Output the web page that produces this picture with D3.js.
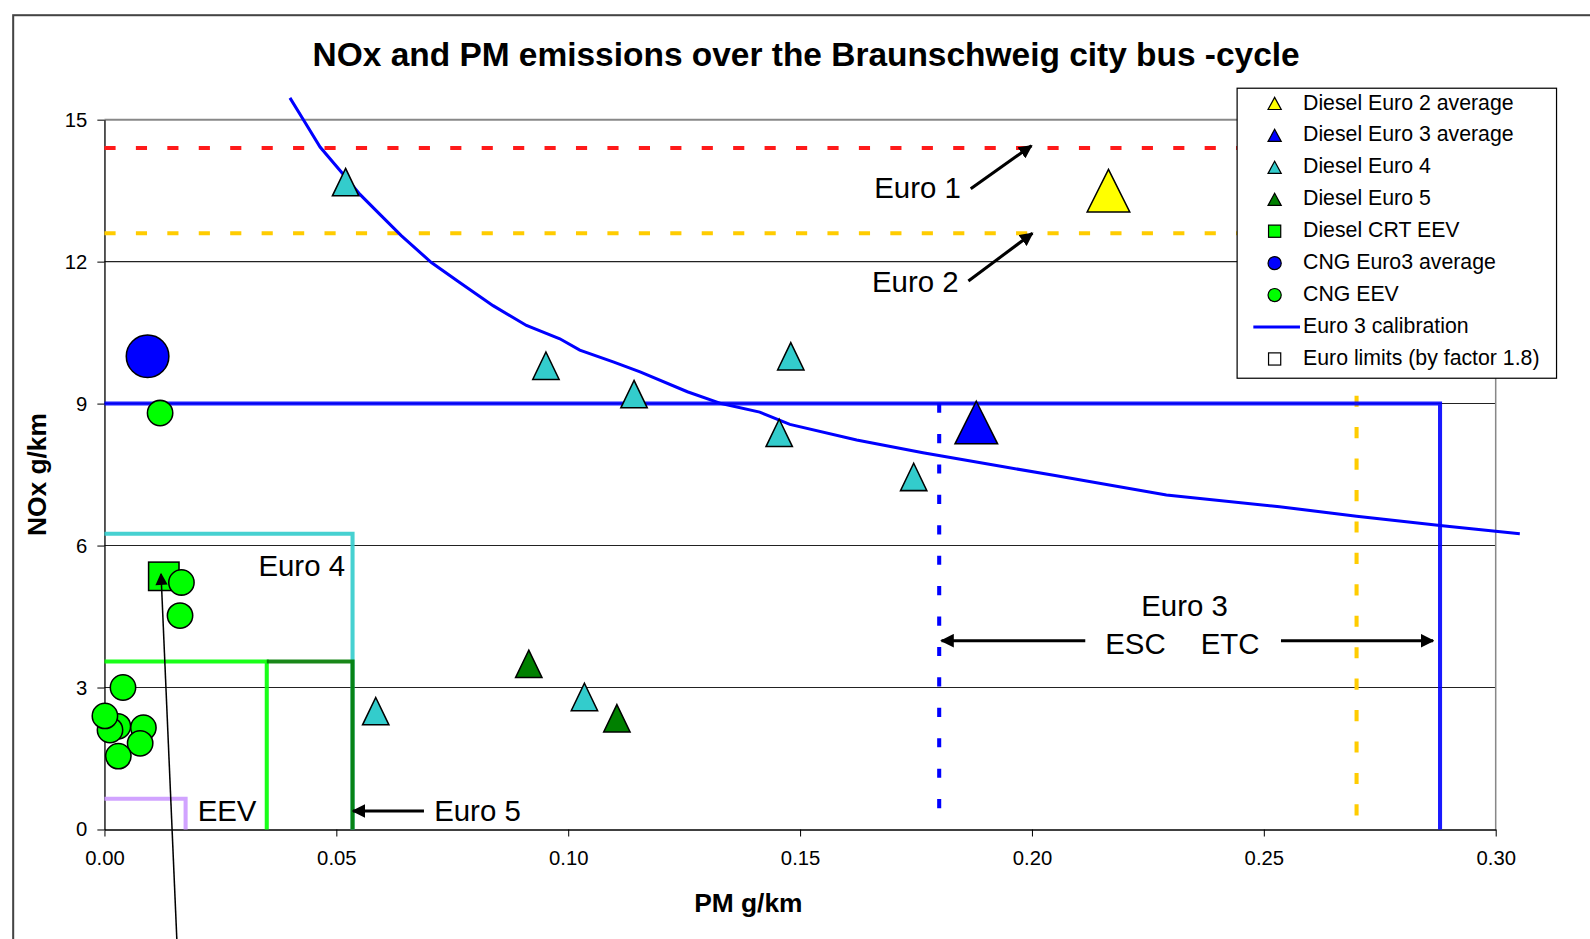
<!DOCTYPE html>
<html>
<head>
<meta charset="utf-8">
<script src="https://cdn.jsdelivr.net/npm/d3@7"></script>
<style>
  body { margin: 0; background: #fff; }
  svg { font-family: "Liberation Sans", Arial, sans-serif; }
</style>
</head>
<body>
<svg id="chart" width="1590" height="939"></svg>
<script>
// --- Data ---
const xTicks = [0, 0.05, 0.1, 0.15, 0.2, 0.25, 0.3];
const yTicks = [0, 3, 6, 9, 12, 15];

// markers: [PM, NOx]
const dieselEuro2Avg = [[0.2165, 13.5]];
const dieselEuro3Avg = [[0.188, 8.6]];
const dieselEuro4 = [
  [0.052, 13.68], [0.0952, 9.8], [0.1142, 9.2], [0.148, 10.0],
  [0.1455, 8.38], [0.1745, 7.45], [0.0585, 2.5], [0.1035, 2.8],
];
const dieselEuro5 = [[0.0915, 3.5], [0.1105, 2.35]];
const dieselCrtEev = [[0.0128, 5.35]];
const cngEuro3Avg = [[0.0093, 10.0]];
const cngEev = [
  [0.012, 8.8], [0.0166, 5.22], [0.0163, 4.52], [0.004, 3.0],
  [0.0029, 2.18], [0.0012, 2.1], [0.0001, 2.4], [0.0084, 2.15],
  [0.0077, 1.82], [0.003, 1.55],
];

// Euro 3 calibration curve
const calPM = [0.0400, 0.0432, 0.0465, 0.0518, 0.0551, 0.0594, 0.0640, 0.0705, 0.0766,
  0.0838, 0.0910, 0.0982, 0.1025, 0.1097, 0.1155, 0.1257, 0.1330, 0.1413, 0.1478,
  0.1622, 0.1765, 0.1936, 0.205, 0.229, 0.2534, 0.270, 0.2885, 0.3052];
const calNOx = [15.46, 14.95, 14.42, 13.81, 13.42, 13.0, 12.55, 11.98, 11.56,
  11.07, 10.65, 10.37, 10.13, 9.88, 9.67, 9.25, 9.0, 8.82, 8.56,
  8.23, 7.96, 7.67, 7.48, 7.07, 6.82, 6.62, 6.42, 6.25];

// Euro limits (g/kWh x 1.8): [PM, NOx]
const limitEuro1NOx = 14.4;
const limitEuro2 = [0.27, 12.6];
const limitEuro3Esc = [0.18, 9.0];
const limitEuro3Etc = [0.288, 9.0];
const limitEuro4 = [0.0535, 6.25];
const limitEev = [0.035, 3.55];
const limitEuro5 = [0.0535, 3.55];
const limitEevLow = [0.0175, 0.65];

const legendLabels = [
  "Diesel Euro 2 average", "Diesel Euro 3 average", "Diesel Euro 4", "Diesel Euro 5",
  "Diesel CRT EEV", "CNG Euro3 average", "CNG EEV", "Euro 3 calibration",
  "Euro limits (by factor 1.8)",
];

// --- Setup ---
const k = 1590 / 1568; // layout was measured on a 1568 px wide view
const svg = d3.select("#chart").append("g").attr("transform", `scale(${k})`);
const x = d3.scaleLinear().domain([0, 0.3]).range([103, 1475]);
const y = d3.scaleLinear().domain([0, 15]).range([818, 118]);

// outer frame
svg.append("rect")
  .attr("x", 13).attr("y", 15)
  .attr("width", 1700).attr("height", 1200)
  .attr("fill", "none").attr("stroke", "#444").attr("stroke-width", 2);

svg.append("text")
  .attr("x", 795).attr("y", 65)
  .attr("text-anchor", "middle")
  .attr("font-size", "33px").attr("font-weight", "bold")
  .text("NOx and PM emissions over the Braunschweig city bus -cycle");

// --- Grid and axes ---
svg.append("g")
  .selectAll("line")
  .data(yTicks.filter((d) => d > 0))
  .join("line")
  .attr("x1", x(0)).attr("x2", x(0.3))
  .attr("y1", (d) => y(d)).attr("y2", (d) => y(d))
  .attr("stroke", (d) => (d === 15 ? "#888" : "#222"))
  .attr("stroke-width", (d) => (d === 15 ? 2 : 1));

svg.append("line")
  .attr("x1", x(0.3)).attr("x2", x(0.3))
  .attr("y1", y(15)).attr("y2", y(0))
  .attr("stroke", "#888").attr("stroke-width", 1.5);

const yAxis = svg.append("g")
  .attr("transform", `translate(${x(0)},0)`)
  .call(d3.axisLeft(y).tickValues(yTicks).tickSize(7).tickSizeOuter(0).tickPadding(10));
const xAxis = svg.append("g")
  .attr("transform", `translate(0,${y(0)})`)
  .call(d3.axisBottom(x).tickValues(xTicks).tickFormat(d3.format(".2f")).tickSize(7).tickSizeOuter(0).tickPadding(14));
[xAxis, yAxis].forEach((g) => {
  g.select(".domain").attr("stroke", "#000").attr("stroke-width", 1.3);
  g.selectAll(".tick line").attr("stroke", "#000");
  g.selectAll("text").attr("font-size", "20px").attr("fill", "#000")
    .attr("font-family", '"Liberation Sans", Arial, sans-serif');
});

svg.append("text")
  .attr("x", 738).attr("y", 899)
  .attr("text-anchor", "middle")
  .attr("font-size", "26px").attr("font-weight", "bold")
  .text("PM g/km");
svg.append("text")
  .attr("transform", "translate(45,468) rotate(-90)")
  .attr("text-anchor", "middle")
  .attr("font-size", "26px").attr("font-weight", "bold")
  .text("NOx g/km");

// --- Limit lines ---
const limits = svg.append("g").attr("fill", "none");
function boxPath([pm, nox], fromPM = 0) {
  return d3.line()([[x(fromPM), y(nox)], [x(pm), y(nox)], [x(pm), y(0)]]);
}
// Euro 1 (NOx only) and Euro 2, dashed
limits.append("line")
  .attr("x1", x(0)).attr("x2", x(0.3))
  .attr("y1", y(limitEuro1NOx)).attr("y2", y(limitEuro1NOx))
  .attr("stroke", "#ff1a1a").attr("stroke-width", 4).attr("stroke-dasharray", "11 20");
limits.append("path")
  .attr("d", boxPath(limitEuro2))
  .attr("stroke", "#ffcc00").attr("stroke-width", 4).attr("stroke-dasharray", "11 20");
// Euro 3 ESC dashed vertical
limits.append("line")
  .attr("x1", x(limitEuro3Esc[0])).attr("x2", x(limitEuro3Esc[0]))
  .attr("y1", y(limitEuro3Esc[1])).attr("y2", y(0))
  .attr("stroke", "#0000ff").attr("stroke-width", 4).attr("stroke-dasharray", "9 21");
// solid boxes
const solidBoxes = [
  { lim: limitEuro3Etc, from: 0, color: "#0000ff" },
  { lim: limitEuro4, from: 0, color: "#33cccc" },
  { lim: limitEev, from: 0, color: "#00ff00" },
  { lim: limitEuro5, from: limitEev[0], color: "#007a00" },
  { lim: limitEevLow, from: 0, color: "#cc99ff" },
];
solidBoxes.forEach((b) => {
  limits.append("path")
    .attr("d", boxPath(b.lim, b.from))
    .attr("stroke", b.color).attr("stroke-width", 4).attr("opacity", 0.9);
});

// --- Calibration curve ---
svg.append("path")
  .attr("d", d3.line().x((d, i) => x(calPM[i])).y((d) => y(d))(calNOx))
  .attr("fill", "none").attr("stroke", "#0000ff").attr("stroke-width", 3);

// --- Markers ---
function triPath(w, h) {
  return `M0,${-h / 2}L${w / 2},${h / 2}L${-w / 2},${h / 2}Z`;
}
function drawTriangles(data, color, w, h) {
  svg.append("g").selectAll("path")
    .data(data).join("path")
    .attr("transform", (d) => `translate(${x(d[0])},${y(d[1])})`)
    .attr("d", triPath(w, h))
    .attr("fill", color).attr("stroke", "#000").attr("stroke-width", 1.5);
}
function drawCircles(data, color, r) {
  svg.append("g").selectAll("circle")
    .data(data).join("circle")
    .attr("cx", (d) => x(d[0])).attr("cy", (d) => y(d[1])).attr("r", r)
    .attr("fill", color).attr("stroke", "#000").attr("stroke-width", 1.5);
}
drawTriangles(dieselEuro2Avg, "#ffff00", 42, 42);
drawTriangles(dieselEuro3Avg, "#0000ff", 42, 42);
drawTriangles(dieselEuro4, "#33cccc", 26, 27);
drawTriangles(dieselEuro5, "#008000", 26, 27);
svg.append("g").selectAll("rect")
  .data(dieselCrtEev).join("rect")
  .attr("x", (d) => x(d[0]) - 15).attr("y", (d) => y(d[1]) - 14)
  .attr("width", 30).attr("height", 28)
  .attr("fill", "#00ff00").attr("stroke", "#000").attr("stroke-width", 1.5);
drawCircles(cngEuro3Avg, "#0000ff", 21);
drawCircles(cngEev, "#00ff00", 12.5);

// --- Annotations (positions in data units) ---
const annot = svg.append("g").attr("font-size", "29px").attr("fill", "#000");
const annotTexts = [
  { t: "Euro 1", pm: 0.166, nox: 13.35 },
  { t: "Euro 2", pm: 0.1655, nox: 11.36 },
  { t: "Euro 4", pm: 0.0332, nox: 5.36 },
  { t: "EEV", pm: 0.0201, nox: 0.17 },
  { t: "Euro 5", pm: 0.0711, nox: 0.17 },
  { t: "ESC", pm: 0.2158, nox: 3.71 },
  { t: "ETC", pm: 0.2364, nox: 3.71 },
];
annotTexts.forEach((a) => {
  annot.append("text").attr("x", x(a.pm)).attr("y", y(a.nox)).text(a.t);
});
annot.append("text").attr("x", x(0.2329)).attr("y", y(4.52))
  .attr("text-anchor", "middle").text("Euro 3");

const defs = svg.append("defs");
defs.append("marker")
  .attr("id", "head").attr("viewBox", "0 0 10 10")
  .attr("refX", 9).attr("refY", 5)
  .attr("markerWidth", 4.5).attr("markerHeight", 4.5)
  .attr("markerUnits", "strokeWidth").attr("orient", "auto")
  .append("path").attr("d", "M0,0L10,5L0,10Z").attr("fill", "#000");
defs.append("marker")
  .attr("id", "headThin").attr("viewBox", "0 0 10 10")
  .attr("refX", 9).attr("refY", 5)
  .attr("markerWidth", 14).attr("markerHeight", 12)
  .attr("markerUnits", "userSpaceOnUse").attr("orient", "auto")
  .append("path").attr("d", "M0,0L10,5L0,10Z").attr("fill", "#000");

const arrows = [
  { from: [0.1868, 13.54], to: [0.1999, 14.45], w: 3 },
  { from: [0.1863, 11.59], to: [0.2001, 12.6], w: 3 },
  { from: [0.0689, 0.39], to: [0.0536, 0.39], w: 3 },
  { from: [0.2115, 3.99], to: [0.1805, 3.99], w: 3 },
  { from: [0.2537, 3.99], to: [0.2865, 3.99], w: 3 },
];
arrows.forEach((a) => {
  svg.append("line")
    .attr("x1", x(a.from[0])).attr("y1", y(a.from[1]))
    .attr("x2", x(a.to[0])).attr("y2", y(a.to[1]))
    .attr("stroke", "#000").attr("stroke-width", a.w)
    .attr("marker-end", "url(#head)");
});
// thin pointer to the CRT EEV square
svg.append("line")
  .attr("x1", x(0.0158)).attr("y1", y(-2.75))
  .attr("x2", x(0.0122)).attr("y2", y(5.4))
  .attr("stroke", "#000").attr("stroke-width", 1.5)
  .attr("marker-end", "url(#headThin)");

// --- Legend ---
const lg = svg.append("g");
lg.append("rect")
  .attr("x", 1220).attr("y", 87).attr("width", 315).attr("height", 286)
  .attr("fill", "#fff").attr("stroke", "#000").attr("stroke-width", 1.2);
const rowY = (i) => 101 + i * 31.5;
const mx = 1257;
const legendMarks = [
  { type: "tri", color: "#ffff00" },
  { type: "tri", color: "#0000ff" },
  { type: "tri", color: "#33cccc" },
  { type: "tri", color: "#008000" },
  { type: "sq", color: "#00ff00" },
  { type: "circ", color: "#0000ff" },
  { type: "circ", color: "#00ff00" },
  { type: "line", color: "#0000ff" },
  { type: "sq", color: "#ffffff" },
];
legendLabels.forEach((label, i) => {
  const m = legendMarks[i];
  const cy = rowY(i) + 1;
  if (m.type === "tri") {
    lg.append("path").attr("transform", `translate(${mx},${cy})`)
      .attr("d", triPath(13, 12)).attr("fill", m.color).attr("stroke", "#000").attr("stroke-width", 1.2);
  } else if (m.type === "sq") {
    lg.append("rect").attr("x", mx - 6).attr("y", cy - 6).attr("width", 12).attr("height", 12)
      .attr("fill", m.color).attr("stroke", "#000").attr("stroke-width", 1.2);
  } else if (m.type === "circ") {
    lg.append("circle").attr("cx", mx).attr("cy", cy).attr("r", 6.5)
      .attr("fill", m.color).attr("stroke", "#000").attr("stroke-width", 1.2);
  } else {
    lg.append("line").attr("x1", 1236).attr("x2", 1282).attr("y1", cy).attr("y2", cy)
      .attr("stroke", m.color).attr("stroke-width", 3);
  }
  lg.append("text").attr("x", 1285).attr("y", rowY(i) + 7)
    .attr("font-size", "21px").text(label);
});
</script>
</body>
</html>
